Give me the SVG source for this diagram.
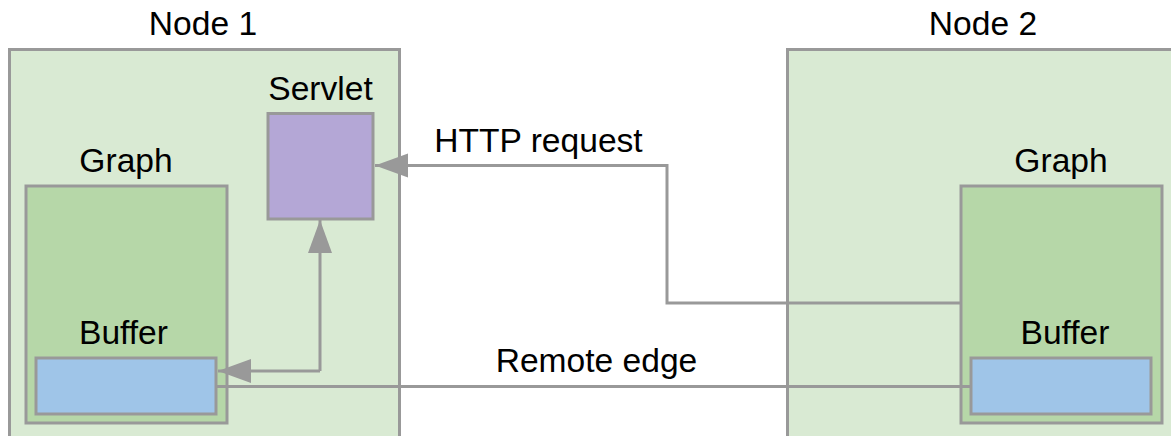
<svg xmlns="http://www.w3.org/2000/svg" width="1171" height="436" viewBox="0 0 1171 436">
<style>
text{font-family:"Liberation Sans",Arial,sans-serif;font-size:33.6px;fill:#000;text-anchor:middle}
.node{fill:#d9ead3;stroke:#999;stroke-width:3}
.graph{fill:#b6d7a8;stroke:#999;stroke-width:3}
.servlet{fill:#b4a7d6;stroke:#999;stroke-width:3}
.buffer{fill:#9fc5e8;stroke:#999;stroke-width:3}
.conn{fill:none;stroke:#999;stroke-width:3}
</style>
<defs>
<marker id="arr" markerUnits="userSpaceOnUse" markerWidth="35" markerHeight="26" refX="33" refY="12" orient="auto">
<path d="M0,0 L33,12 L0,24 Z" fill="#999"/>
</marker>
</defs>
<rect width="1171" height="436" fill="#fff"/>
<g id="node1">
<rect class="node" x="9.5" y="49.5" width="390" height="400"/>
<text x="203" y="35">Node 1</text>
</g>
<g id="node2">
<rect class="node" x="787.5" y="49.5" width="400" height="400"/>
<text x="983" y="35">Node 2</text>
</g>
<g id="graph1">
<rect class="graph" x="26" y="186" width="201" height="237"/>
<text x="126" y="172">Graph</text>
</g>
<g id="servlet">
<rect class="servlet" x="268" y="113.5" width="105" height="105.5"/>
<text x="320.5" y="100">Servlet</text>
</g>
<g id="buffer1">
<rect class="buffer" x="36" y="358" width="180" height="56"/>
<text x="123.5" y="344">Buffer</text>
</g>
<g id="graph2">
<rect class="graph" x="961" y="186" width="201" height="237"/>
<text x="1061" y="172">Graph</text>
</g>
<g id="buffer2">
<rect class="buffer" x="971" y="358" width="180" height="56"/>
<text x="1065" y="344">Buffer</text>
</g>
<g id="connectors">
<polyline class="conn" points="961,303 667,303 667,165.5 375,165.5" marker-end="url(#arr)"/>
<polyline class="conn" points="320,371 320,220" marker-end="url(#arr)"/>
<polyline class="conn" points="320,371 218,371" marker-end="url(#arr)"/>
<line class="conn" x1="216" y1="386.5" x2="971" y2="386.5"/>
<text x="596.5" y="372">Remote edge</text>
<text x="538.5" y="152">HTTP request</text>
</g>
</svg>
